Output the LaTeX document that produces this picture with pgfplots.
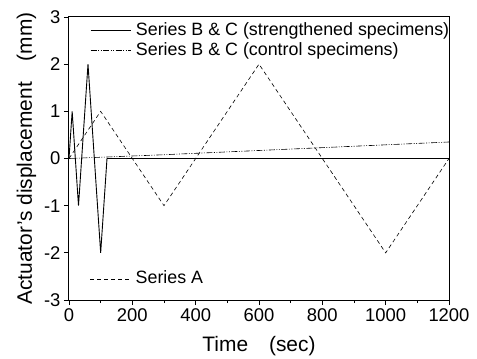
\documentclass[border=0pt]{standalone}
\usepackage{pgfplots}
\pgfplotsset{compat=1.18}
\usepackage{fontspec}
\setmainfont{Liberation Sans}
\begin{document}
\begin{tikzpicture}
\pgfplotsset{
  legcommon/.style={
    legend cell align=left,
    legend style={draw=none, fill=none, inner sep=0pt,
      font=\fontsize{17.9}{17.9}\selectfont,
      nodes={inner sep=0pt, text height=13bp, text depth=4bp},
      column sep=5bp, row sep=3bp},
    legend image code/.code={\draw[##1] (0bp,0bp) -- (40bp,0bp);},
  }
}
\begin{axis}[
  name=main,
  scale only axis, width=380bp, height=283bp,
  xmin=0, xmax=1200, ymin=-3, ymax=3,
  xtick={0,200,...,1200}, minor xtick={100,300,...,1100},
  ytick={-3,-2,...,3},
  tick align=outside, xtick pos=bottom, ytick pos=left,
  major tick length=5bp, minor tick length=3bp,
  every tick/.style={black, line width=0.8bp},
  axis line style={black, line width=1bp},
  tick label style={font=\fontsize{18.5}{18.5}\selectfont},
  /pgf/number format/assume math mode=true,
  scaled ticks=false,
  xticklabel style={/pgf/number format/1000 sep={}},
  xlabel={Time\hspace{1em}(sec)},
  ylabel={Actuator's displacement\hspace{1em}(mm)},
  label style={font=\fontsize{21}{21}\selectfont},
  xlabel style={yshift=-8bp},
  ylabel style={yshift=1bp},
  legcommon,
  legend style={at={(0.055,0.982)}, anchor=north west, row sep=3bp},
]
\addplot[black, line width=0.9bp] coordinates {(0,0) (10,1) (30,-1) (60,2) (100,-2) (120,0) (1200,0)};
\addlegendentry{Series B \& C (strengthened specimens)}
\addplot[black, line width=0.6bp, dash pattern=on 6bp off 1.5bp on 1bp off 1.5bp on 1bp off 1.5bp] coordinates {(0,0) (300,0.08) (600,0.17) (900,0.26) (1200,0.35)};
\addlegendentry{Series B \& C (control specimens)}
\addplot[black, line width=0.6bp, dash pattern=on 4bp off 3bp, forget plot] coordinates {(0,0) (100,1) (300,-1) (600,2) (1000,-2) (1200,0)};
\end{axis}
\begin{axis}[
  scale only axis, width=380bp, height=283bp,
  xmin=0, xmax=1200, ymin=-3, ymax=3,
  hide axis,
  legcommon,
  legend style={at={(0.055,0.043)}, anchor=south west},
]
\addlegendimage{black, line width=0.6bp, dash pattern=on 4bp off 3bp}
\addlegendentry{Series A}
\end{axis}
\pgfresetboundingbox
\path (-69bp,-59bp) rectangle (408bp,300bp);
\end{tikzpicture}
\end{document}
